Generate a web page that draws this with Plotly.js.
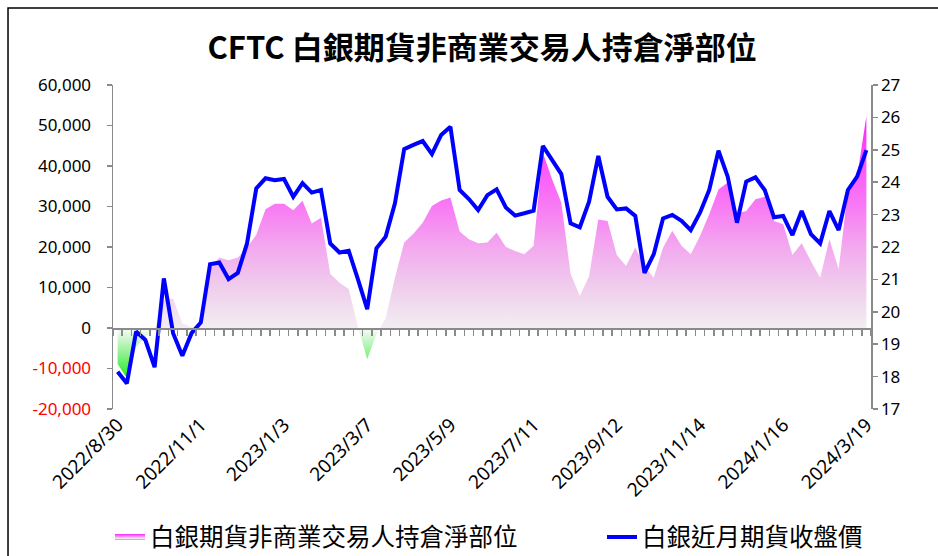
<!DOCTYPE html>
<html>
<head>
<meta charset="utf-8">
<script src="https://cdn.plot.ly/plotly-3.0.1.min.js"></script>
<style>html,body{margin:0;padding:0;background:#fff;}#chart{width:938px;height:556px;}</style>
</head>
<body>
<div id="chart"></div>
<script>
const dates = [
"2022/8/30","2022/9/6","2022/9/13","2022/9/20","2022/9/27","2022/10/4","2022/10/11","2022/10/18","2022/10/25",
"2022/11/1","2022/11/8","2022/11/15","2022/11/22","2022/11/29","2022/12/6","2022/12/13","2022/12/20","2022/12/27",
"2023/1/3","2023/1/10","2023/1/17","2023/1/24","2023/1/31","2023/2/7","2023/2/14","2023/2/21","2023/2/28",
"2023/3/7","2023/3/14","2023/3/21","2023/3/28","2023/4/4","2023/4/11","2023/4/18","2023/4/25","2023/5/2",
"2023/5/9","2023/5/16","2023/5/23","2023/5/30","2023/6/6","2023/6/13","2023/6/20","2023/6/27","2023/7/4",
"2023/7/11","2023/7/18","2023/7/25","2023/8/1","2023/8/8","2023/8/15","2023/8/22","2023/8/29","2023/9/5",
"2023/9/12","2023/9/19","2023/9/26","2023/10/3","2023/10/10","2023/10/17","2023/10/24","2023/10/31","2023/11/7",
"2023/11/14","2023/11/21","2023/11/28","2023/12/5","2023/12/12","2023/12/19","2023/12/26","2024/1/2","2024/1/9",
"2024/1/16","2024/1/23","2024/1/30","2024/2/6","2024/2/13","2024/2/20","2024/2/27","2024/3/5","2024/3/12",
"2024/3/19"];

const netPosition = [
-8900,-12400,-4600,-2200,-300,7000,7200,1100,200,
400,14500,17400,16700,17400,19800,23000,29300,30700,
30700,29100,31400,25800,27200,13400,11200,9600,300,
-7700,-1500,2400,12400,21100,23300,26000,30100,31500,
32200,23800,21900,20900,21100,23500,20000,19000,18200,
20300,43300,36700,30900,13400,7900,12800,26800,26400,
18000,15300,19800,15300,12400,19800,24000,20300,18200,
22700,28100,34200,35900,28300,28900,31800,32400,26400,
25600,18000,20900,16500,12400,21900,14500,33800,37500,
52300];

const silverPrice = [
18.15,17.79,19.39,19.13,18.29,21.03,19.34,18.64,19.34,
19.67,21.47,21.52,21.01,21.20,22.11,23.81,24.12,24.06,
24.10,23.55,23.97,23.68,23.76,22.11,21.83,21.88,21.00,
20.08,21.96,22.32,23.35,25.02,25.15,25.27,24.87,25.46,
25.71,23.76,23.48,23.14,23.60,23.78,23.22,22.97,23.04,
23.12,25.12,24.69,24.25,22.73,22.61,23.40,24.81,23.55,
23.16,23.19,22.96,21.20,21.78,22.88,22.99,22.81,22.52,
23.06,23.76,24.97,24.17,22.75,24.02,24.15,23.76,22.92,
22.96,22.37,23.11,22.40,22.11,23.11,22.52,23.76,24.17,
24.99];

const xTickDates = ["2022/8/30","2022/11/1","2023/1/3","2023/3/7","2023/5/9","2023/7/11","2023/9/12","2023/11/14","2024/1/16","2024/3/19"];
const leftTickVals = [-20000,-10000,0,10000,20000,30000,40000,50000,60000];
const rightTickVals = [17,18,19,20,21,22,23,24,25,26,27];

const chartTitle = "CFTC 白銀期貨非商業交易人持倉淨部位";
const seriesNames = ["白銀期貨非商業交易人持倉淨部位","白銀近月期貨收盤價"];

const numFont = "Noto Sans, Open Sans, sans-serif";
const cjkFont = "Noto Sans CJK TC, Noto Sans, sans-serif";

function fmt(v){ return v.toLocaleString('en-US'); }
const leftTickText = leftTickVals.map(v => v < 0 ? '<span style="color:#ff0000">' + fmt(v) + '</span>' : fmt(v));

const traces = [
  {
    type: 'scatter', mode: 'none', name: seriesNames[0],
    x: dates, y: netPosition, xaxis: 'x', yaxis: 'y',
    fill: 'tozeroy',
    fillgradient: {
      type: 'vertical', start: -13000, stop: 53000,
      colorscale: [
        [0, '#10f010'], [0.1, '#8ef08e'], [0.192, '#f6fbf6'],
        [0.197, '#f2eef2'], [0.35, '#f0cdec'], [0.5, '#f3a8ef'],
        [0.65, '#f87bf4'], [0.85, '#fc4cfb'], [1, '#ff1aff']
      ]
    },
    hoverinfo: 'x+y', legend: 'legend'
  },
  {
    type: 'scatter', mode: 'lines', name: seriesNames[1],
    x: dates, y: silverPrice, xaxis: 'x2', yaxis: 'y2',
    line: {color: '#0000ff', width: 4},
    legend: 'legend2'
  }
];

const layout = {
  width: 938, height: 556,
  paper_bgcolor: '#ffffff', plot_bgcolor: 'rgba(0,0,0,0)',
  margin: {l: 113, r: 67, t: 85, b: 147},
  title: {
    text: '<b>' + chartTitle + '</b>',
    font: {family: cjkFont, size: 31, color: '#000'},
    x: 0.514, xref: 'container', xanchor: 'center',
    y: 0.913, yref: 'container', yanchor: 'middle'
  },
  xaxis: {
    type: 'category', range: [-0.5, 81.5],
    showline: false, ticks: '', showgrid: false, zeroline: false,
    tickmode: 'array', tickvals: xTickDates, ticktext: xTickDates,
    tickangle: -45, tickfont: {family: numFont, size: 19, color: '#000'}
  },
  xaxis2: {
    type: 'category', range: [-0.5, 81.5], overlaying: 'x', anchor: 'free', position: 0.25,
    showline: true, linecolor: '#8a8a8a', linewidth: 1.5,
    ticks: 'outside', ticklen: 6, tickwidth: 1.5, tickcolor: '#8a8a8a',
    tickson: 'boundaries', tickmode: 'linear', tick0: 0, dtick: 1,
    showticklabels: false, showgrid: false, zeroline: false
  },
  yaxis: {
    range: [-20000, 60000], tickmode: 'array', tickvals: leftTickVals, ticktext: leftTickText,
    showline: true, linecolor: '#8a8a8a', linewidth: 1.5,
    ticks: 'outside', ticklen: 5, tickwidth: 1.5, tickcolor: '#8a8a8a',
    showgrid: false, zeroline: false,
    tickfont: {family: numFont, size: 17, color: '#000'}, ticklabelstandoff: 12
  },
  yaxis2: {
    range: [17, 27], overlaying: 'y', side: 'right', anchor: 'x2',
    tickmode: 'array', tickvals: rightTickVals,
    showline: true, linecolor: '#8a8a8a', linewidth: 1.5,
    ticks: 'outside', ticklen: 5, tickwidth: 1.5, tickcolor: '#8a8a8a',
    showgrid: false, zeroline: false,
    tickfont: {family: numFont, size: 17, color: '#000'}
  },
  legend: {
    xref: 'container', yref: 'container', x: 110/938, y: 19/556,
    xanchor: 'left', yanchor: 'middle', orientation: 'h',
    font: {family: cjkFont, size: 24.5, color: '#000'}, bgcolor: 'rgba(0,0,0,0)'
  },
  legend2: {
    xref: 'container', yref: 'container', x: 602/938, y: 19/556,
    xanchor: 'left', yanchor: 'middle', orientation: 'h',
    font: {family: cjkFont, size: 24.5, color: '#000'}, bgcolor: 'rgba(0,0,0,0)'
  },
  shapes: [
    {type: 'rect', xref: 'paper', yref: 'paper', x0: -0.1385, x1: 1.2, y0: -0.6, y1: 1.2377,
     line: {color: '#000', width: 1.5}, fillcolor: 'rgba(0,0,0,0)'}
  ],
  showlegend: true
};

Plotly.newPlot('chart', traces, layout, {displayModeBar: false, staticPlot: true});
</script>
</body>
</html>
